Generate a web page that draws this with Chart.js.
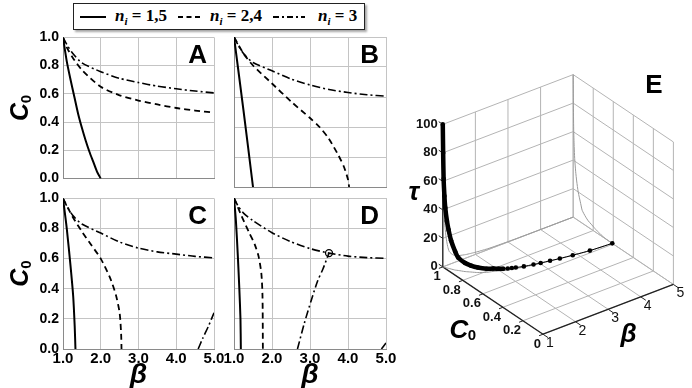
<!DOCTYPE html>
<html>
<head>
<meta charset="utf-8">
<script src="https://cdn.jsdelivr.net/npm/chart.js@4/dist/chart.umd.min.js"></script>
<style>
  body { margin: 0; width: 692px; height: 388px; position: relative; overflow: hidden; background: #fff; font-family: "Liberation Sans", Arial, sans-serif; }
  canvas { position: absolute; }
  #legend { position: absolute; left: 73px; top: 3px; width: 290px; height: 25px; border: 1.5px solid #222; box-shadow: 2px 2px 2px rgba(0,0,0,0.35); background: #fff; }
  #legend svg { position: absolute; top: 8px; }
  #legend .lab { position: absolute; top: 2px; font: bold 17px "Liberation Serif", "DejaVu Serif", serif; white-space: nowrap; }
  #legend .lab sub { font-size: 11px; }
</style>
</head>
<body>

<div id="legend">
  <svg style="left:6px" width="26" height="10"><line x1="0" y1="5" x2="26" y2="5" stroke="#000" stroke-width="2"/></svg>
  <span class="lab" style="left:41px"><i>n<sub>i</sub></i> = 1,5</span>
  <svg style="left:104px" width="24" height="10"><line x1="0" y1="5" x2="24" y2="5" stroke="#000" stroke-width="2" stroke-dasharray="5,3.5"/></svg>
  <span class="lab" style="left:136px"><i>n<sub>i</sub></i> = 2,4</span>
  <svg style="left:199px" width="32" height="10"><line x1="0" y1="5" x2="32" y2="5" stroke="#000" stroke-width="1.8" stroke-dasharray="6,3,2,3"/></svg>
  <span class="lab" style="left:244px"><i>n<sub>i</sub></i> = 3</span>
</div>

<canvas id="chartA"></canvas>
<canvas id="chartB"></canvas>
<canvas id="chartC"></canvas>
<canvas id="chartD"></canvas>
<canvas id="chartE"></canvas>

<script>
// ticks
const betaTicks = [1, 2, 3, 4, 5]
const c0Ticks = [0, 0.2, 0.4, 0.6, 0.8, 1]
const tauTicks = [0, 20, 40, 60, 80, 100]

// panel A
const aSolidBeta = [1.0, 1.1, 1.2, 1.3, 1.4, 1.5, 1.6, 1.7, 1.8, 1.9, 2.0]
const aSolidC0 = [1.0, 0.83, 0.70, 0.58, 0.46, 0.36, 0.27, 0.19, 0.12, 0.05, 0.0]
const aDashBeta = [1.0, 1.1, 1.25, 1.5, 2.0, 2.5, 3.0, 3.5, 4.0, 4.5, 5.0]
const aDashC0 = [1.0, 0.93, 0.86, 0.77, 0.65, 0.59, 0.553, 0.525, 0.5, 0.482, 0.467]
const aDotBeta = [1.0, 1.1, 1.25, 1.5, 2.0, 2.5, 3.0, 3.5, 4.0, 4.5, 5.0]
const aDotC0 = [1.0, 0.95, 0.89, 0.82, 0.757, 0.71, 0.68, 0.655, 0.636, 0.62, 0.607]

// panel B
const bSolidBeta = [1.0, 1.25, 1.5]
const bSolidC0 = [1.0, 0.51, 0.0]
const bDashBeta = [1.0, 1.25, 1.5, 2.0, 2.5, 3.0, 3.25, 3.5, 3.75, 3.9, 4.0, 4.03]
const bDashC0 = [1.0, 0.89, 0.81, 0.69, 0.57, 0.46, 0.40, 0.32, 0.21, 0.13, 0.05, 0.0]
const bDotBeta = [1.0, 1.1, 1.25, 1.5, 2.0, 2.5, 3.0, 3.5, 4.0, 4.5, 5.0]
const bDotC0 = [1.0, 0.95, 0.89, 0.83, 0.775, 0.72, 0.68, 0.65, 0.63, 0.615, 0.605]

// panel C
const cSolidBeta = [1.0, 1.1, 1.2, 1.27, 1.31, 1.33]
const cSolidC0 = [1.0, 0.8, 0.55, 0.35, 0.15, 0.0]
const cDashBeta = [1.0, 1.25, 1.5, 1.75, 2.0, 2.25, 2.4, 2.5, 2.54, 2.55]
const cDashC0 = [1.0, 0.88, 0.78, 0.69, 0.60, 0.47, 0.36, 0.24, 0.1, 0.0]
const cDotBeta = [1.0, 1.1, 1.25, 1.5, 2.0, 2.5, 3.0, 3.5, 4.0, 4.5, 5.0]
const cDotC0 = [1.0, 0.95, 0.89, 0.83, 0.77, 0.71, 0.67, 0.645, 0.63, 0.615, 0.605]
const cDot2Beta = [4.58, 4.7, 4.85, 5.0]
const cDot2C0 = [0.0, 0.07, 0.15, 0.24]

// panel D
const dSolidBeta = [1.0, 1.05, 1.1, 1.14, 1.17, 1.18]
const dSolidC0 = [1.0, 0.85, 0.62, 0.4, 0.2, 0.0]
const dDashBeta = [1.0, 1.2, 1.4, 1.55, 1.65, 1.72, 1.75, 1.76]
const dDashC0 = [1.0, 0.88, 0.77, 0.69, 0.61, 0.5, 0.35, 0.0]
const dDotBeta = [1.0, 1.1, 1.25, 1.5, 2.0, 2.5, 3.0, 3.5, 4.0, 4.5, 5.0]
const dDotC0 = [1.0, 0.95, 0.9, 0.85, 0.77, 0.71, 0.665, 0.635, 0.615, 0.605, 0.6]
const dDot2Beta = [2.67, 2.85, 3.03, 3.2, 3.34, 3.5]
const dDot2C0 = [0.0, 0.17, 0.32, 0.45, 0.53, 0.635]
const dDot3Beta = [4.88, 5.0]
const dDot3C0 = [0.0, 0.04]
const dMarkBeta = [3.5]
const dMarkC0 = [0.635]

// panel E (3d path)
const eBeta = [1.0, 1.005, 1.01, 1.02, 1.03, 1.05, 1.07, 1.1, 1.15, 1.2, 1.3, 1.4, 1.52, 1.7, 1.85, 1.97, 2.08, 2.18, 2.28, 2.38, 2.58, 2.83, 3.02, 3.27, 3.53, 3.88, 4.35, 5.0]
const eC0 = [1.0, 0.998, 0.995, 0.99, 0.985, 0.975, 0.965, 0.95, 0.925, 0.91, 0.875, 0.85, 0.82, 0.79, 0.775, 0.76, 0.745, 0.735, 0.727, 0.72, 0.705, 0.69, 0.68, 0.668, 0.655, 0.64, 0.622, 0.61]
const eTau = [100, 80, 62, 50, 42, 33, 27, 20, 13, 9, 6, 4.5, 3.5, 2.5, 2, 1.6, 1.3, 1.1, 0.9, 0.7, 0.5, 0.35, 0.25, 0.15, 0.1, 0.05, 0.02, 0]


const styles = {
  solid: { borderDash: [], borderWidth: 2 },
  dash: { borderDash: [6, 4], borderWidth: 1.8 },
  dashDot: { borderDash: [8, 3, 2, 3], borderWidth: 1.6 }
}

const series = (betas, c0s, style) => ({
  data: betas.map((b, i) => ({ x: b, y: c0s[i] })),
  showLine: true,
  pointRadius: 0,
  borderColor: '#000',
  tension: 0.25,
  ...styles[style]
})

const yTickFont = { family: '"Liberation Sans", Arial', size: 14, weight: 'bold' }
const xTickFont = { family: '"Liberation Sans", Arial', size: 15, weight: 'bold' }

// panel letter + rotated C0 title
const panelText = {
  id: 'panelText',
  afterDraw(chart, args, opts) {
    const { ctx, chartArea } = chart
    ctx.save()
    ctx.fillStyle = '#000'
    ctx.font = 'bold 26px "Liberation Sans", Arial'
    ctx.textAlign = 'right'
    ctx.textBaseline = 'alphabetic'
    ctx.fillText(opts.letter, chartArea.right - 7, chartArea.top + 26)
    if (opts.yTitle) {
      ctx.translate(21, (chartArea.top + chartArea.bottom) / 2)
      ctx.rotate(-Math.PI / 2)
      ctx.textAlign = 'center'
      ctx.textBaseline = 'middle'
      ctx.font = 'bold italic 25px "Liberation Sans", Arial'
      ctx.fillText('C', -4, 0)
      ctx.font = 'bold 15px "Liberation Sans", Arial'
      ctx.fillText('0', 9, 6)
    }
    ctx.restore()
  }
}

function renderPanel(id, panel) {
  const canvas = document.getElementById(id)
  const [left, top, width, height] = panel.box
  const [pl, pt, pr, pb] = panel.plot
  canvas.width = width
  canvas.height = height
  canvas.style.left = left + 'px'
  canvas.style.top = top + 'px'

  new Chart(canvas, {
    type: 'scatter',
    data: { datasets: panel.series },
    options: {
      responsive: false,
      animation: false,
      layout: { padding: { top: pt - top, right: left + width - pr, left: 0, bottom: 0 } },
      plugins: {
        legend: { display: false },
        tooltip: { enabled: false },
        panelText: { letter: panel.letter, yTitle: panel.showY }
      },
      scales: {
        x: {
          type: 'linear', min: 1, max: 5,
          afterFit: s => { s.height = top + height - pb },
          ticks: { display: panel.showX, stepSize: 1, padding: 1, maxRotation: 0, color: '#000', font: xTickFont, callback: v => v.toFixed(1) },
          grid: { color: '#c4c4c4', drawTicks: false },
          border: { color: '#8a8a8a' },
          title: { display: panel.showX, text: 'β', color: '#000', padding: 0, font: { family: '"Liberation Sans", Arial', size: 28, weight: 'bold', style: 'italic', lineHeight: 0.9 } }
        },
        y: {
          type: 'linear', min: 0, max: 1,
          afterFit: s => { s.width = pl - left },
          ticks: { display: panel.showY, stepSize: 0.2, padding: 4, color: '#000', font: yTickFont, callback: v => v.toFixed(1) },
          grid: { color: '#c4c4c4', drawTicks: false },
          border: { color: '#8a8a8a' }
        }
      }
    },
    plugins: [panelText]
  })
}

renderPanel('chartA', {
  box: [0, 25, 224, 166], plot: [63, 37, 214, 187], letter: 'A', showX: false, showY: true,
  series: [series(aSolidBeta, aSolidC0, 'solid'), series(aDashBeta, aDashC0, 'dash'), series(aDotBeta, aDotC0, 'dashDot')]
})
renderPanel('chartB', {
  box: [216, 25, 180, 166], plot: [234, 37, 386, 187], letter: 'B', showX: false, showY: false,
  series: [series(bSolidBeta, bSolidC0, 'solid'), series(bDashBeta, bDashC0, 'dash'), series(bDotBeta, bDotC0, 'dashDot')]
})
renderPanel('chartC', {
  box: [0, 186, 228, 202], plot: [63, 198, 214, 349], letter: 'C', showX: true, showY: true,
  series: [series(cSolidBeta, cSolidC0, 'solid'), series(cDashBeta, cDashC0, 'dash'), series(cDotBeta, cDotC0, 'dashDot'), series(cDot2Beta, cDot2C0, 'dashDot')]
})
renderPanel('chartD', {
  box: [216, 186, 184, 202], plot: [234, 198, 386, 349], letter: 'D', showX: true, showY: false,
  series: [
    series(dSolidBeta, dSolidC0, 'solid'), series(dDashBeta, dDashC0, 'dash'), series(dDotBeta, dDotC0, 'dashDot'),
    series(dDot2Beta, dDot2C0, 'dashDot'), series(dDot3Beta, dDot3C0, 'dashDot'),
    { data: dMarkBeta.map((b, i) => ({ x: b, y: dMarkC0[i] })), pointRadius: 3.5, pointBorderWidth: 1.3, pointBorderColor: '#000', pointBackgroundColor: 'rgba(255,255,255,0)' }
  ]
})


// ---- panel E: oblique 3d box drawn on a hidden-axis scatter ----
function proj(b, c, t) {
  return {
    x: 440 + (b - 1) * 33.5 + (1 - c) * 103,
    y: 268 - (b - 1) * 12.75 + (1 - c) * 69 - t * 1.46
  }
}

const eSets = []
const edge = (p, q, color, width, order) => eSets.push({
  data: [proj(...p), proj(...q)], showLine: true, pointRadius: 0, borderColor: color, borderWidth: width, order
})

betaTicks.forEach(b => { edge([b, 1, 0], [b, 0, 0], '#b4b4b4', 1, 3); edge([b, 1, 0], [b, 1, 100], '#b4b4b4', 1, 3) })
c0Ticks.forEach(c => { edge([1, c, 0], [5, c, 0], '#b4b4b4', 1, 3); edge([5, c, 0], [5, c, 100], '#b4b4b4', 1, 3) })
tauTicks.forEach(t => { edge([1, 1, t], [5, 1, t], '#b4b4b4', 1, 3); edge([5, 1, t], [5, 0, t], '#b4b4b4', 1, 3) })

// front axes and tick marks
edge([1, 1, 0], [1, 1, 100], '#222', 1.3, 2)
edge([1, 1, 0], [1, 0, 0], '#222', 1.3, 2)
edge([1, 0, 0], [5, 0, 0], '#222', 1.3, 2)
c0Ticks.forEach(c => edge([1, c, 0], [0.88, c, 0], '#222', 1, 2))
betaTicks.forEach(b => edge([b, 0, 0], [b, -0.05, 0], '#222', 1, 2))
tauTicks.forEach(t => edge([1, 1, t], [1, 1.04, t], '#222', 1, 2))

// projections of the path on the walls and floor
const shadow = pts => ({ data: pts, showLine: true, pointRadius: 0, borderColor: '#9a9a9a', borderWidth: 1, tension: 0.2, order: 1 })
eSets.push(shadow(eBeta.map((b, i) => proj(b, 1, eTau[i]))))
eSets.push(shadow(eBeta.map((b, i) => proj(5, eC0[i], eTau[i]))))
eSets.push(shadow(eBeta.map((b, i) => proj(b, eC0[i], 0))))

// the path itself
eSets.push({
  data: eBeta.map((b, i) => proj(b, eC0[i], eTau[i])),
  showLine: true,
  borderColor: '#000',
  segment: { borderWidth: s => eBeta[s.p1DataIndex] <= 2.1 ? 4.5 : 1 },
  pointRadius: 2.3,
  pointBackgroundColor: '#000',
  pointBorderWidth: 0,
  tension: 0.2,
  order: 0
})

const eText = {
  id: 'eText',
  afterDraw(chart) {
    const { ctx, scales: { x, y } } = chart
    const at = (p, dx, dy) => [x.getPixelForValue(p.x) + dx, y.getPixelForValue(p.y) + dy]
    ctx.save()
    ctx.fillStyle = '#111'
    ctx.textBaseline = 'middle'

    ctx.font = 'bold 13px "Liberation Sans", Arial'
    ctx.textAlign = 'right'
    tauTicks.forEach(t => ctx.fillText(String(t), ...at(proj(1, 1, t), -5, 0)))
    c0Ticks.forEach(c => ctx.fillText(String(c), ...at(proj(1, c, 0), -2, 10)))

    ctx.font = '14px "Liberation Sans", Arial'
    ctx.textAlign = 'left'
    betaTicks.forEach(b => ctx.fillText(String(b), ...at(proj(b, 0, 0), 3, 9)))

    ctx.fillStyle = '#000'
    ctx.textAlign = 'center'
    ctx.font = 'bold italic 26px "Liberation Sans", Arial'
    ctx.fillText('τ', ...at(proj(1, 1, 52), -29, 0))
    ctx.fillText('β', ...at(proj(3.5, 0, 0), 4, 32))
    const [cx, cy] = at(proj(1, 0.5, 0), -30, 30)
    ctx.fillText('C', cx - 4, cy)
    ctx.font = 'bold 15px "Liberation Sans", Arial'
    ctx.fillText('0', cx + 9, cy + 5)

    ctx.font = 'bold 26px "Liberation Sans", Arial'
    ctx.fillText('E', ...at({ x: 657, y: 82 }, 0, 0))
    ctx.restore()
  }
}

const eCanvas = document.getElementById('chartE')
eCanvas.width = 297
eCanvas.height = 333
eCanvas.style.left = '395px'
eCanvas.style.top = '55px'

new Chart(eCanvas, {
  type: 'scatter',
  data: { datasets: eSets },
  options: {
    responsive: false,
    animation: false,
    layout: { padding: 0 },
    plugins: { legend: { display: false }, tooltip: { enabled: false } },
    scales: {
      x: { display: false, min: 395, max: 692 },
      y: { display: false, min: 55, max: 388, reverse: true }
    }
  },
  plugins: [eText]
})
</script>
</body>
</html>
